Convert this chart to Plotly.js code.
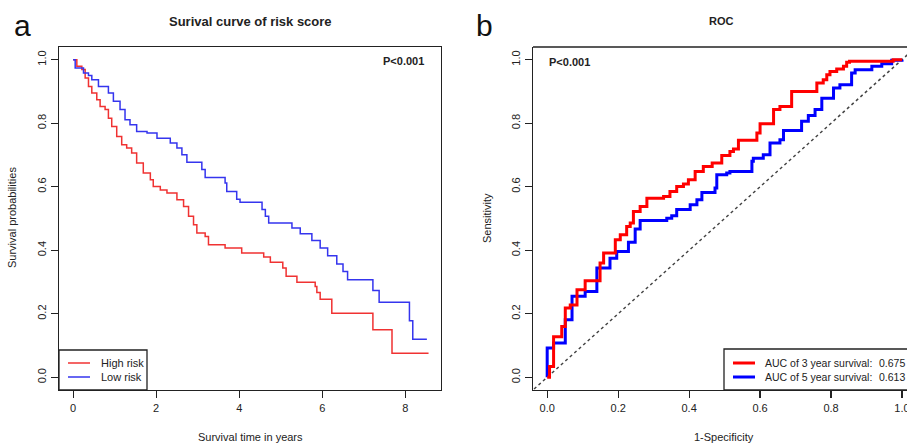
<!DOCTYPE html>
<html>
<head>
<meta charset="utf-8">
<script src="https://cdn.plot.ly/plotly-3.0.1.min.js"></script>
<style>html,body{margin:0;padding:0;background:#fff;}#chart{width:907px;height:447px;}</style>
</head>
<body>
<div id="chart"></div>
<script>
// ---------- data ----------
const kmTimeHigh = [0, 0.09, 0.21, 0.29, 0.37, 0.45, 0.57, 0.65, 0.77, 0.85, 0.93, 1.05, 1.17, 1.29, 1.41, 1.53, 1.69, 1.86, 1.93, 2.1, 2.26, 2.5, 2.66, 2.78, 2.9, 2.98, 3.18, 3.26, 3.66, 4.06, 4.59, 4.75, 5.05, 5.13, 5.39, 5.83, 5.87, 5.95, 6.23, 7.22, 7.68, 8.56];
const kmSurvHigh = [1.0, 0.979, 0.969, 0.942, 0.916, 0.895, 0.874, 0.853, 0.843, 0.816, 0.79, 0.758, 0.732, 0.722, 0.706, 0.675, 0.643, 0.622, 0.601, 0.59, 0.58, 0.559, 0.538, 0.507, 0.48, 0.454, 0.443, 0.417, 0.407, 0.391, 0.379, 0.362, 0.344, 0.318, 0.299, 0.286, 0.267, 0.246, 0.202, 0.15, 0.076, 0.076];
const kmTimeLow = [0, 0.05, 0.25, 0.37, 0.45, 0.61, 0.85, 0.97, 1.13, 1.25, 1.37, 1.53, 1.78, 2.02, 2.34, 2.5, 2.62, 2.74, 3.1, 3.18, 3.66, 3.7, 3.94, 4.02, 4.55, 4.63, 4.71, 5.27, 5.47, 5.75, 5.95, 6.13, 6.35, 6.5, 6.61, 7.22, 7.37, 8.1, 8.18, 8.52];
const kmSurvLow = [1.0, 0.974, 0.958, 0.95, 0.937, 0.916, 0.895, 0.869, 0.843, 0.811, 0.795, 0.774, 0.769, 0.753, 0.738, 0.722, 0.701, 0.677, 0.654, 0.629, 0.612, 0.585, 0.561, 0.551, 0.528, 0.507, 0.486, 0.47, 0.452, 0.431, 0.407, 0.383, 0.357, 0.333, 0.307, 0.273, 0.236, 0.178, 0.12, 0.12];

const rocFpr3 = [0, 0.0066, 0.018, 0.041, 0.051, 0.065, 0.084, 0.107, 0.149, 0.159, 0.192, 0.206, 0.224, 0.234, 0.243, 0.262, 0.281, 0.328, 0.346, 0.365, 0.384, 0.398, 0.417, 0.44, 0.465, 0.492, 0.515, 0.525, 0.539, 0.591, 0.6, 0.638, 0.656, 0.689, 0.76, 0.778, 0.788, 0.797, 0.816, 0.835, 0.844, 0.852, 0.975, 1.0];
const rocTpr3 = [0, 0.034, 0.128, 0.16, 0.218, 0.228, 0.276, 0.304, 0.36, 0.391, 0.433, 0.449, 0.475, 0.486, 0.522, 0.538, 0.564, 0.569, 0.585, 0.601, 0.609, 0.622, 0.648, 0.664, 0.675, 0.698, 0.711, 0.719, 0.746, 0.769, 0.798, 0.843, 0.853, 0.9, 0.927, 0.937, 0.953, 0.963, 0.971, 0.979, 0.992, 0.995, 1.0, 1.0];
const rocFpr5 = [0, 0, 0.018, 0.051, 0.07, 0.107, 0.14, 0.177, 0.196, 0.229, 0.248, 0.262, 0.337, 0.351, 0.365, 0.403, 0.422, 0.436, 0.473, 0.478, 0.506, 0.515, 0.577, 0.581, 0.609, 0.628, 0.656, 0.666, 0.717, 0.736, 0.755, 0.774, 0.807, 0.825, 0.858, 0.868, 0.915, 0.943, 0.971, 1.0];
const rocTpr5 = [0, 0.092, 0.108, 0.181, 0.255, 0.27, 0.344, 0.375, 0.396, 0.425, 0.467, 0.494, 0.501, 0.509, 0.528, 0.543, 0.559, 0.582, 0.596, 0.638, 0.643, 0.648, 0.68, 0.69, 0.701, 0.738, 0.748, 0.777, 0.806, 0.824, 0.843, 0.879, 0.911, 0.921, 0.958, 0.968, 0.979, 0.987, 0.998, 1.0];
const diagRef = [-0.1, 1.1];

const kmTicks = [0, 2, 4, 6, 8];
const probTicks = [0, 0.2, 0.4, 0.6, 0.8, 1.0];
const probTickLabels = ['0.0', '0.2', '0.4', '0.6', '0.8', '1.0'];

const seriesNames = ['High risk', 'Low risk'];
const aucLabels = ['AUC of 3 year survival:', 'AUC of 5 year survival:'];
const aucValues = ['0.675', '0.613'];

// ---------- helpers ----------
const W = 907, H = 447;
const px = x => x / W;
const py = y => 1 - y / H;
const FONT = 'Liberation Sans, Arial, Helvetica, sans-serif';
const INK = '#222';

const traces = [
  {x: kmTimeHigh, y: kmSurvHigh, xaxis: 'x', yaxis: 'y', mode: 'lines', line: {shape: 'hv', color: '#f03232', width: 1.5}, name: seriesNames[0]},
  {x: kmTimeLow, y: kmSurvLow, xaxis: 'x', yaxis: 'y', mode: 'lines', line: {shape: 'hv', color: '#3535ee', width: 1.5}, name: seriesNames[1]},
  {x: diagRef, y: diagRef, xaxis: 'x2', yaxis: 'y2', mode: 'lines', line: {color: '#444', width: 1.5, dash: 'dot'}, name: 'ref'},
  {x: rocFpr5, y: rocTpr5, xaxis: 'x2', yaxis: 'y2', mode: 'lines', line: {shape: 'hv', color: '#0000ff', width: 3}, name: '5 year'},
  {x: rocFpr3, y: rocTpr3, xaxis: 'x2', yaxis: 'y2', mode: 'lines', line: {shape: 'hv', color: '#ff0000', width: 3}, name: '3 year'}
];

const axBase = {
  showgrid: false, zeroline: false, showline: true, linecolor: INK, linewidth: 1.3,
  ticks: 'outside', ticklen: 7, tickwidth: 1.2, tickcolor: INK,
  tickfont: {family: FONT, size: 11, color: INK}, fixedrange: true,
  ticklabeloverflow: 'allow'
};
const yDom = [py(390), py(47)];

const layout = {
  width: W, height: H,
  margin: {l: 0, r: 0, t: 0, b: 0, pad: 0},
  paper_bgcolor: '#fff', plot_bgcolor: '#fff',
  showlegend: false,
  xaxis: Object.assign({}, axBase, {domain: [px(59), px(441)], range: [-0.34, 8.86], tickvals: kmTicks, mirror: true, anchor: 'y'}),
  yaxis: Object.assign({}, axBase, {domain: yDom, range: [-0.04, 1.04], tickvals: probTicks, ticktext: probTickLabels, tickangle: -90, mirror: true, anchor: 'x'}),
  xaxis2: Object.assign({}, axBase, {domain: [px(533), 1], range: [-0.04, 1.0141], tickvals: probTicks, ticktext: probTickLabels, anchor: 'y2'}),
  yaxis2: Object.assign({}, axBase, {domain: yDom, range: [-0.04, 1.04], tickvals: probTicks, ticktext: probTickLabels, tickangle: -90, anchor: 'x2'}),
  shapes: [
    // top border of ROC box (its right edge falls outside the picture)
    {type: 'line', xref: 'paper', yref: 'paper', x0: px(533), x1: 1.05, y0: yDom[1], y1: yDom[1], line: {color: INK, width: 1.3}},
    // KM legend
    {type: 'rect', xref: 'paper', yref: 'paper', x0: px(59), x1: px(147), y0: py(390), y1: py(350), line: {color: INK, width: 1.3}},
    {type: 'line', xref: 'paper', yref: 'paper', x0: px(68), x1: px(90), y0: py(363), y1: py(363), line: {color: '#f03232', width: 1.5}},
    {type: 'line', xref: 'paper', yref: 'paper', x0: px(68), x1: px(90), y0: py(377), y1: py(377), line: {color: '#3535ee', width: 1.5}},
    // ROC legend
    {type: 'rect', xref: 'paper', yref: 'paper', x0: px(724), x1: 1.08, y0: py(390), y1: py(349), line: {color: INK, width: 1.3}},
    {type: 'line', xref: 'paper', yref: 'paper', x0: px(733), x1: px(755), y0: py(363), y1: py(363), line: {color: '#ff0000', width: 3}},
    {type: 'line', xref: 'paper', yref: 'paper', x0: px(733), x1: px(755), y0: py(377), y1: py(377), line: {color: '#0000ff', width: 3}}
  ],
  annotations: []
};

function ann(text, x, y, opts) {
  layout.annotations.push(Object.assign({
    text: text, xref: 'paper', yref: 'paper', x: px(x), y: py(y),
    xanchor: 'center', yanchor: 'middle', showarrow: false,
    font: {family: FONT, size: 11, color: INK}
  }, opts || {}));
}
const legFont = {family: FONT, size: 10.5, color: INK};
ann('a', 22, 26, {font: {family: FONT, size: 30, color: '#111'}});
ann('b', 484, 26, {font: {family: FONT, size: 30, color: '#111'}});
ann('<b>Surival curve of risk score</b>', 250, 21, {font: {family: FONT, size: 13, color: INK}});
ann('<b>ROC</b>', 721, 21, {font: {family: FONT, size: 11, color: INK}});
ann('<b>P<0.001</b>', 426, 61, {xanchor: 'right'});
ann('<b>P<0.001</b>', 547, 62, {xanchor: 'left'});
ann('Survival time in years', 250, 437);
ann('1-Specificity', 724, 437);
ann('Survival probabilities', 12, 218, {textangle: -90});
ann('Sensitivity', 487, 218, {textangle: -90});
ann(seriesNames[0], 99, 363, {xanchor: 'left'});
ann(seriesNames[1], 99, 377, {xanchor: 'left'});
ann(aucLabels[0], 763, 363, {xanchor: 'left', font: legFont});
ann(aucLabels[1], 763, 377, {xanchor: 'left', font: legFont});
ann(aucValues[0], 907, 363, {xanchor: 'right', font: legFont});
ann(aucValues[1], 907, 377, {xanchor: 'right', font: legFont});

Plotly.newPlot('chart', traces, layout, {staticPlot: true, displayModeBar: false});
</script>
</body>
</html>
